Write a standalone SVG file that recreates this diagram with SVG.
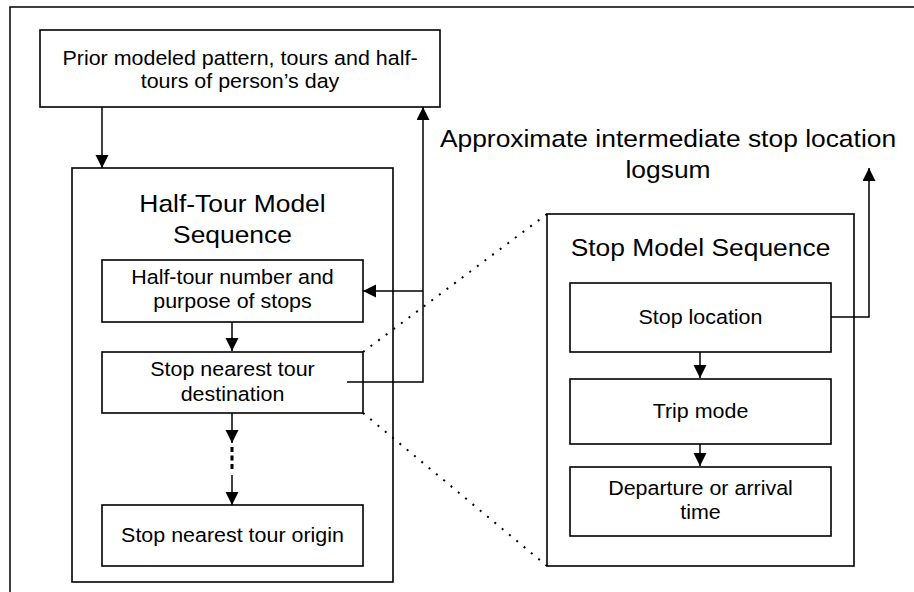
<svg xmlns="http://www.w3.org/2000/svg" width="914" height="592" viewBox="0 0 914 592">
  <style>
    .box { fill: #ffffff; stroke: #000000; stroke-width: 1.6; }
    .frame { fill: #ffffff; stroke: #000000; stroke-width: 1.6; }
    .wire { fill: none; stroke: #000000; stroke-width: 1.5; }
    .dots { fill: none; stroke: #000000; stroke-width: 2; stroke-dasharray: 2 7.5; }
    .gap { fill: none; stroke: #000000; stroke-width: 3; stroke-dasharray: 5 3.5; }
    text { font-family: "Liberation Sans", Arial, sans-serif; fill: #000000; text-anchor: middle; }
    .t { font-size: 19.5px; }
    .h { font-size: 24px; }
  </style>
  <defs>
    <marker id="head" markerUnits="userSpaceOnUse" markerWidth="14" markerHeight="14" refX="13" refY="6.5" orient="auto">
      <path d="M0,0 L13,6.5 L0,13 z" fill="#000000"/>
    </marker>
  </defs>

  <rect width="914" height="592" fill="#ffffff"/>

  <!-- page frame: only top and left rules are drawn -->
  <path class="wire" d="M10,592 V7 H914" stroke-width="1.8"/>

  <g id="prior-pattern">
    <rect class="box" x="40" y="30" width="400" height="77"/>
    <text class="t" transform="translate(240,65) scale(1.1,1)">Prior modeled pattern, tours and half-<tspan x="0" dy="23">tours of person’s day</tspan></text>
  </g>

  <g id="half-tour-sequence">
    <rect class="frame" x="72" y="168" width="321" height="414"/>
    <text class="h" transform="translate(232.5,212) scale(1.1,1)">Half-Tour Model<tspan x="0" dy="31">Sequence</tspan></text>
  </g>

  <g id="half-tour-number">
    <rect class="box" x="102" y="260" width="261" height="62"/>
    <text class="t" transform="translate(232.5,284) scale(1.1,1)">Half-tour number and<tspan x="0" dy="24.5">purpose of stops</tspan></text>
  </g>

  <g id="stop-nearest-destination">
    <rect class="box" x="102" y="352" width="261" height="61"/>
    <text class="t" transform="translate(232.5,376) scale(1.1,1)">Stop nearest tour<tspan x="0" dy="25.5">destination</tspan></text>
  </g>

  <g id="stop-nearest-origin">
    <rect class="box" x="102" y="505" width="261" height="61"/>
    <text class="t" transform="translate(232.5,542) scale(1.1,1)">Stop nearest tour origin</text>
  </g>

  <g id="stop-sequence">
    <rect class="frame" x="547" y="214" width="307" height="352"/>
    <text class="h" transform="translate(700.5,256) scale(1.1,1)">Stop Model Sequence</text>
  </g>

  <g id="stop-location">
    <rect class="box" x="570" y="283" width="261" height="69"/>
    <text class="t" transform="translate(700.5,324) scale(1.1,1)">Stop location</text>
  </g>

  <g id="trip-mode">
    <rect class="box" x="570" y="379" width="261" height="65"/>
    <text class="t" transform="translate(700.5,418) scale(1.1,1)">Trip mode</text>
  </g>

  <g id="departure-arrival">
    <rect class="box" x="570" y="467" width="261" height="69"/>
    <text class="t" transform="translate(700.5,495) scale(1.1,1)">Departure or arrival<tspan x="0" dy="24">time</tspan></text>
  </g>

  <g id="logsum-label">
    <text class="h" transform="translate(668,147) scale(1.1,1)">Approximate intermediate stop location<tspan x="0" dy="31">logsum</tspan></text>
  </g>

  <g id="connectors">
    <!-- prior pattern into the half-tour sequence -->
    <path class="wire" d="M102,107 V168" marker-end="url(#head)"/>
    <!-- half-tour chain -->
    <path class="wire" d="M232,322 V351" marker-end="url(#head)"/>
    <path class="wire" d="M232,413 V443" marker-end="url(#head)"/>
    <path class="gap" d="M232,447 V470"/>
    <path class="wire" d="M232,475 V505" marker-end="url(#head)"/>
    <!-- logsum feedback from the destination stop -->
    <path class="wire" d="M347,382 H423 V107" marker-end="url(#head)"/>
    <path class="wire" d="M423,291 H363" marker-end="url(#head)"/>
    <!-- stop chain -->
    <path class="wire" d="M700,352 V378" marker-end="url(#head)"/>
    <path class="wire" d="M700,444 V466" marker-end="url(#head)"/>
    <!-- stop location logsum output -->
    <path class="wire" d="M831,317 H869 V168" marker-end="url(#head)"/>
    <!-- expansion guides -->
    <path class="dots" d="M363,352 L547,214"/>
    <path class="dots" d="M363,413 L547,566"/>
  </g>
</svg>
